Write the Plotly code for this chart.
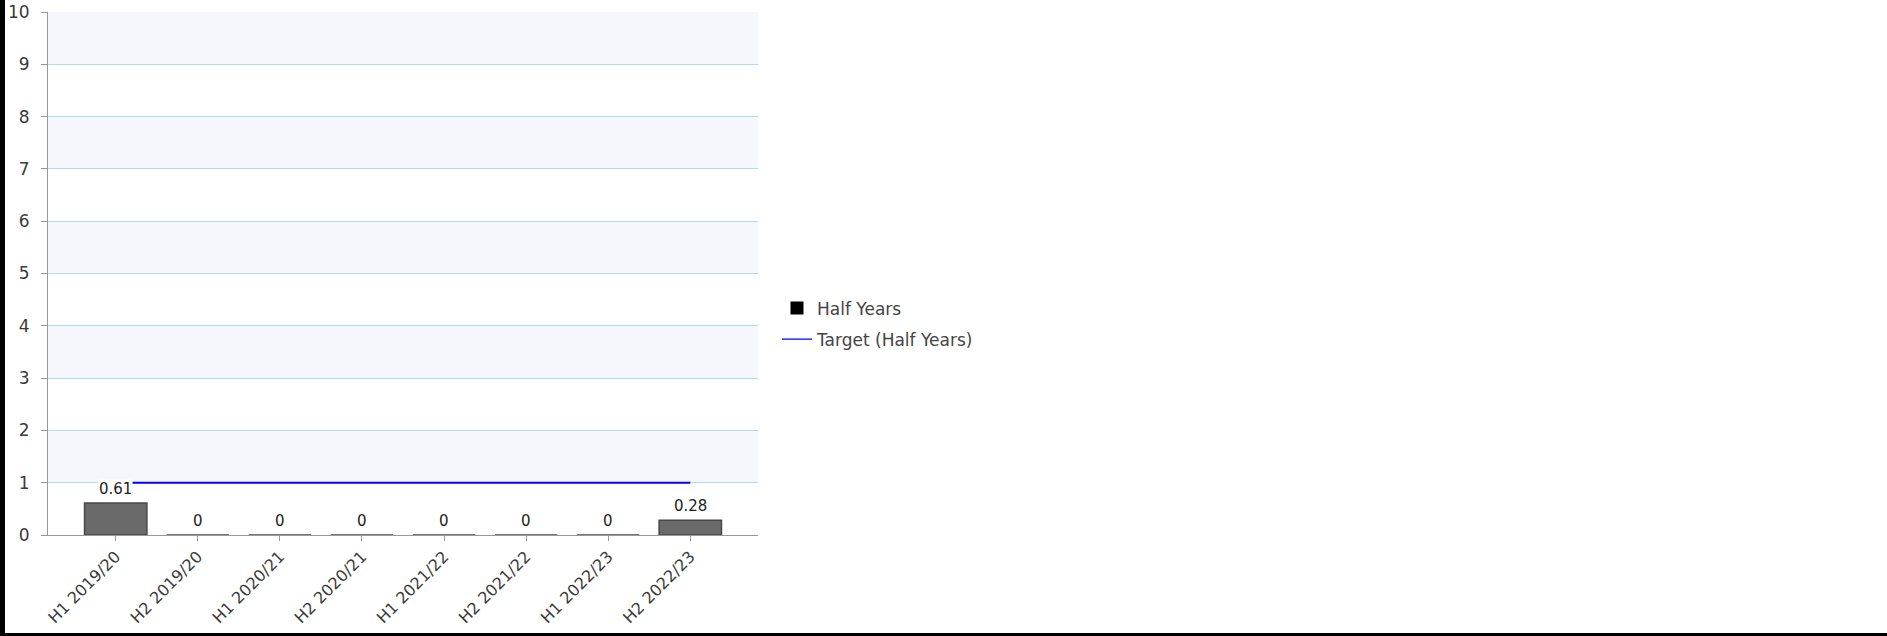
import plotly.graph_objects as go

# Half-year periods and measured values
categories = ["H1 2019/20", "H2 2019/20", "H1 2020/21", "H2 2020/21",
              "H1 2021/22", "H2 2021/22", "H1 2022/23", "H2 2022/23"]
half_year_values = [0.61, 0, 0, 0, 0, 0, 0, 0.28]
target_values = [1, 1, 1, 1, 1, 1, 1, 1]
y_ticks = [0, 1, 2, 3, 4, 5, 6, 7, 8, 9, 10]

W, H = 1887, 636
L, R, T, B = 48, 758, 12, 535  # plot area in pixels

FONT = "DejaVu Sans"
TEXT = "#3a3a3a"

fig = go.Figure()

fig.add_trace(go.Bar(
    x=categories, y=half_year_values, name="Half Years",
    width=0.76, showlegend=False,
    marker=dict(color="#6a6a6a", line=dict(color="#474747", width=1.5)),
))
fig.add_trace(go.Scatter(
    x=categories, y=target_values, mode="lines", name="Target (Half Years)",
    showlegend=False,
    line=dict(color="#0000ff", width=2),
))
# legend entries
fig.add_trace(go.Scatter(
    x=[None], y=[None], mode="markers", name="Half Years",
    legendgroup="a",
    marker=dict(symbol="square", size=13, color="black"),
))
fig.add_trace(go.Scatter(
    x=[None], y=[None], mode="lines", name="Target (Half Years)",
    legendgroup="b",
    line=dict(color="#0000ff", width=1.2),
))

# value labels above the bars
for c, v in zip(categories, half_year_values):
    fig.add_annotation(
        x=c, y=v, text=f"{v:g}", showarrow=False, yanchor="bottom",
        yshift=4, bgcolor="white", borderpad=0,
        font=dict(family=FONT, size=15, color="#222222"),
    )

# alternating horizontal bands
shapes = []
for lo, hi in zip(y_ticks[:-1], y_ticks[1:]):
    if lo % 2 == 1:
        shapes.append(dict(type="rect", xref="paper", yref="y", x0=0, x1=1,
                           y0=lo, y1=hi, fillcolor="#f6f7fd", line_width=0,
                           layer="below"))

# page frame: left and bottom edges
pw, ph = R - L, B - T
def px(x):
    return (x - L) / pw
def py(y):
    return (B - y) / ph
shapes.append(dict(type="rect", xref="paper", yref="paper",
                   x0=px(0), x1=px(5), y0=py(H), y1=py(0),
                   fillcolor="black", line_width=0))
shapes.append(dict(type="rect", xref="paper", yref="paper",
                   x0=px(0), x1=px(W), y0=py(H), y1=py(H - 3),
                   fillcolor="black", line_width=0))

fig.update_layout(
    width=W, height=H,
    margin=dict(l=L, r=W - R, t=T, b=H - B, pad=0, autoexpand=False),
    paper_bgcolor="white", plot_bgcolor="white",
    shapes=shapes,
    showlegend=True,
    legend=dict(x=px(777), y=py(324), xanchor="left", yanchor="middle",
                font=dict(family=FONT, size=17, color="#444444"),
                tracegroupgap=6,
                bgcolor="rgba(0,0,0,0)"),
    xaxis=dict(
        type="category", range=[-0.825, 7.825], automargin=False,
        showgrid=False, zeroline=False,
        showline=True, linecolor="#999999", linewidth=1,
        ticks="outside", ticklen=5, tickcolor="#999999",
        tickangle=-45,
        tickfont=dict(family=FONT, size=16, color=TEXT),
    ),
    yaxis=dict(
        range=[0, 10], tickvals=y_ticks, automargin=False,
        showgrid=True, gridcolor="#b0dde6", gridwidth=1,
        zeroline=False,
        showline=True, linecolor="#999999", linewidth=1,
        ticks="outside", ticklen=6, tickcolor="#999999",
        ticklabelstandoff=8,
        tickfont=dict(family=FONT, size=17, color=TEXT),
    ),
    bargap=0.24,
)

fig.write_html("out.html")
